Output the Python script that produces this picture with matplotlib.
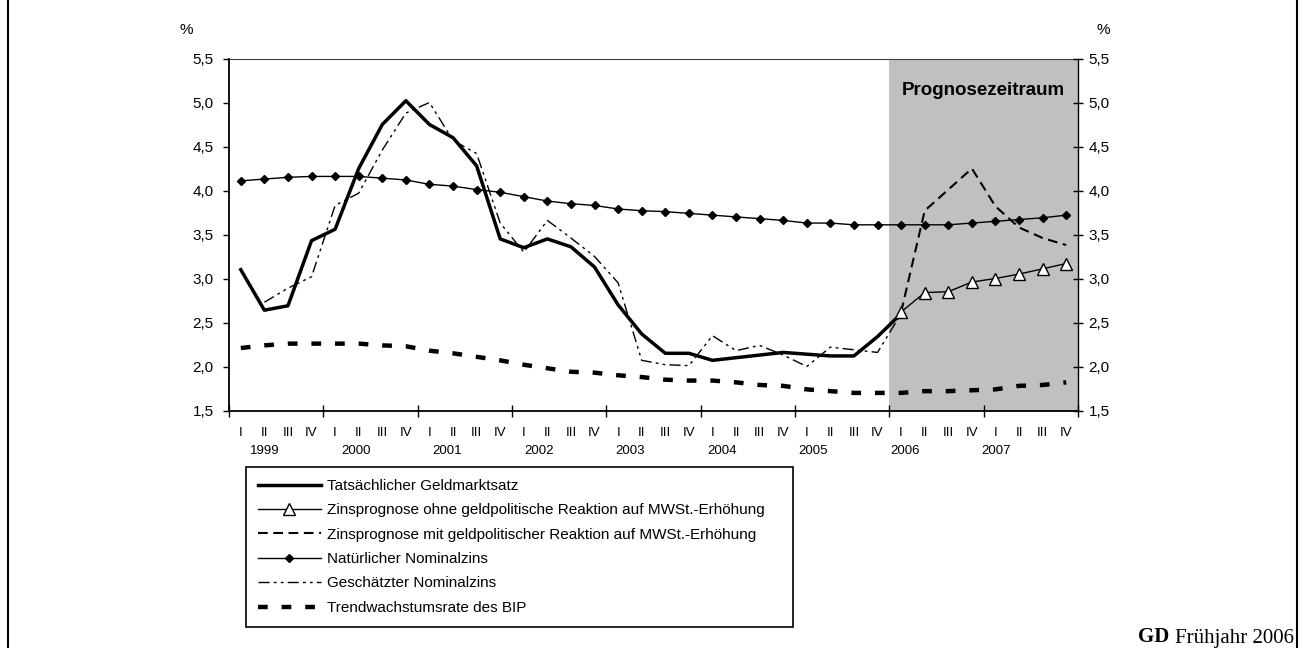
import numpy as np
import matplotlib
matplotlib.use("Agg")
import matplotlib.pyplot as plt
from matplotlib.lines import Line2D
from matplotlib.ticker import FuncFormatter

plt.rcParams['font.family'] = ['Liberation Sans', 'DejaVu Sans']
plt.rcParams['lines.scale_dashes'] = False

# ---------------- data ----------------
quarters = ["I", "II", "III", "IV"]
years = ["1999", "2000", "2001", "2002", "2003", "2004", "2005", "2006", "2007"]

# 1999 Q1 .. 2006 Q1
geldmarktsatz = [3.10, 2.64, 2.69, 3.43, 3.56, 4.25, 4.75, 5.02, 4.75, 4.60, 4.28, 3.45,
                 3.35, 3.45, 3.36, 3.13, 2.70, 2.37, 2.15, 2.15, 2.07, 2.10, 2.13, 2.16,
                 2.14, 2.12, 2.12, 2.34, 2.60]
# 2006 Q1 .. 2007 Q4
ohne_reaktion = [2.62, 2.84, 2.85, 2.96, 3.00, 3.05, 3.11, 3.17]
mit_reaktion = [2.62, 3.77, 4.01, 4.25, 3.82, 3.58, 3.46, 3.38]
# 1999 Q1 .. 2007 Q4
natuerlicher = [4.11, 4.13, 4.15, 4.16, 4.16, 4.16, 4.14, 4.12, 4.07, 4.05, 4.01, 3.98,
                3.93, 3.88, 3.85, 3.83, 3.79, 3.77, 3.76, 3.74, 3.72, 3.70, 3.68, 3.66,
                3.63, 3.63, 3.61, 3.61, 3.61, 3.61, 3.61, 3.63, 3.65, 3.67, 3.69, 3.72]
# 1999 Q2 .. 2006 Q1
geschaetzt = [2.73, 2.89, 3.02, 3.83, 3.97, 4.46, 4.88, 5.00, 4.57, 4.42, 3.63, 3.30,
              3.66, 3.46, 3.25, 2.95, 2.07, 2.02, 2.01, 2.35, 2.18, 2.24, 2.13, 2.00,
              2.22, 2.19, 2.16, 2.60]
# 1999 Q1 .. 2007 Q4
trend_bip = [2.21, 2.24, 2.26, 2.26, 2.26, 2.26, 2.24, 2.23, 2.18, 2.15, 2.11, 2.07,
             2.02, 1.98, 1.94, 1.93, 1.90, 1.88, 1.85, 1.84, 1.84, 1.82, 1.79, 1.78,
             1.74, 1.72, 1.70, 1.70, 1.70, 1.72, 1.72, 1.73, 1.74, 1.78, 1.79, 1.82]

labels = ["Tatsächlicher Geldmarktsatz",
          "Zinsprognose ohne geldpolitische Reaktion auf MWSt.-Erhöhung",
          "Zinsprognose mit geldpolitischer Reaktion auf MWSt.-Erhöhung",
          "Natürlicher Nominalzins",
          "Geschätzter Nominalzins",
          "Trendwachstumsrate des BIP"]

n = len(years) * 4
forecast_start = 28  # 2006 Q1

# ---------------- figure ----------------
W, H = 1303, 648
fig = plt.figure(figsize=(W / 100, H / 100), dpi=100)
x0, x1, ytop, ybot = 229, 1078, 58.5, 410.5
ax = fig.add_axes([x0 / W, 1 - ybot / H, (x1 - x0) / W, (ybot - ytop) / H])
ax.set_xlim(-0.5, n - 0.5)
ax.set_ylim(1.5, 5.5)

ax.axvspan(forecast_start - 0.5, n - 0.5, color="#c0c0c0", lw=0, zorder=0)

x_all = np.arange(n)
h_trend, = ax.plot(x_all, trend_bip, color="black", lw=3.2, dashes=(7, 10),
                   solid_capstyle="butt", dash_capstyle="butt", zorder=2)
h_nat, = ax.plot(x_all, natuerlicher, color="black", lw=1.0, marker="D", ms=4.5,
                 zorder=4)
h_gesch, = ax.plot(np.arange(1, 1 + len(geschaetzt)), geschaetzt, color="black", lw=1.0,
                   dashes=(8, 3, 2, 3, 2, 3), zorder=3)
h_mit, = ax.plot(np.arange(forecast_start, forecast_start + len(mit_reaktion)), mit_reaktion,
                 color="black", lw=1.5, dashes=(7, 4), zorder=3)
h_act, = ax.plot(np.arange(len(geldmarktsatz)), geldmarktsatz, color="black", lw=2.5,
                 zorder=5)
h_ohne, = ax.plot(np.arange(forecast_start, forecast_start + len(ohne_reaktion)), ohne_reaktion,
                  color="black", lw=1.0, marker="^", ms=8, mfc="white", mec="black",
                  mew=1.0, zorder=6)

# y axes
fmt = FuncFormatter(lambda v, p: f"{v:.1f}".replace(".", ","))
yt = np.arange(1.5, 5.51, 0.5)
ax.set_yticks(yt)
ax.yaxis.set_major_formatter(fmt)
ax.tick_params(axis="y", direction="out", length=4, width=1, labelsize=11, pad=7)

ax2 = ax.twinx()
ax2.set_ylim(1.5, 5.5)
ax2.set_yticks(yt)
ax2.yaxis.set_major_formatter(fmt)
ax2.tick_params(axis="y", direction="inout", length=7, width=1, labelsize=11, pad=4)
for s in ["left", "top", "bottom"]:
    ax2.spines[s].set_visible(False)
ax2.spines["right"].set_linewidth(1.0)

# x axis
narrow = ["Liberation Sans Narrow", "Liberation Sans"]
ax.set_xticks(x_all)
ax.set_xticklabels(quarters * len(years), fontsize=9.5, family=narrow)
ax.tick_params(axis="x", which="major", length=0, pad=12)
ax.set_xticks(np.arange(-0.5, n, 4), minor=True)
ax.tick_params(axis="x", which="minor", direction="inout", length=8, width=1)

for k, yr in enumerate(years):
    ax.text(1.0 + 3.88 * k, -0.116, yr, transform=ax.get_xaxis_transform(),
            ha="center", va="center", fontsize=9.5, family=narrow)

ax.spines["left"].set_linewidth(1.3)
ax.spines["bottom"].set_linewidth(1.3)
ax.spines["top"].set_linewidth(0.8)
ax.spines["top"].set_color("#404040")
ax.spines["right"].set_visible(False)

ax.text(31.5, 5.14, "Prognosezeitraum", ha="center", va="center", fontsize=13.5,
        fontweight="bold", zorder=7)

fig.text(186 / W, 1 - 30 / H, "%", ha="center", va="center", fontsize=11)
fig.text(1103 / W, 1 - 30 / H, "%", ha="center", va="center", fontsize=11)

# legend
handles = [h_act, h_ohne, h_mit, h_nat, h_gesch, h_trend]
leg = fig.legend(handles, labels, loc="upper left",
                 bbox_to_anchor=(246 / W, 1 - 467 / H, (793 - 246) / W, 0),
                 mode="expand", borderaxespad=0, fontsize=11, labelspacing=0.68,
                 handlelength=4.1, handletextpad=0.4, borderpad=0.78, numpoints=1,
                 fancybox=False, framealpha=1, edgecolor="black")
leg.get_frame().set_linewidth(1.2)

# source note
serif = ["Liberation Serif", "DejaVu Serif"]
t = fig.text(1294 / W, 1 - 647.5 / H, "Frühjahr 2006", ha="right", va="bottom",
             fontsize=15, family=serif)
plt.annotate("GD", xy=(0, 0), xycoords=t, xytext=(-4, 0), textcoords="offset points",
             ha="right", va="bottom", fontsize=15, fontweight="bold",
             family=serif, annotation_clip=False)

# outer frame lines
fig.add_artist(Line2D([8 / W, 8 / W], [0, 1], transform=fig.transFigure, color="black", lw=1.5))
fig.add_artist(Line2D([1297 / W, 1297 / W], [0, 1], transform=fig.transFigure, color="black", lw=1.5))

fig.savefig("out.png", dpi=100)
